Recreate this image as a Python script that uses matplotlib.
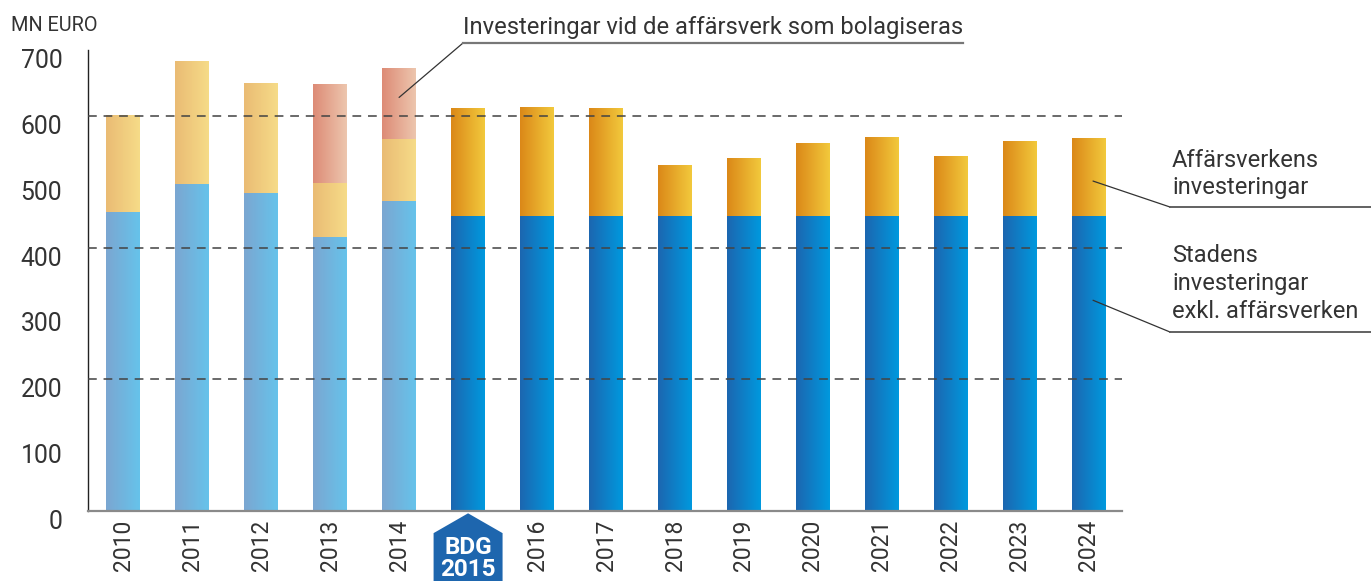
import matplotlib.pyplot as plt
import numpy as np
from matplotlib.colors import LinearSegmentedColormap
from matplotlib.patches import Polygon
from matplotlib.transforms import ScaledTranslation, blended_transform_factory

years = ['2010', '2011', '2012', '2013', '2014', '2015', '2016', '2017',
         '2018', '2019', '2020', '2021', '2022', '2023', '2024']
# stadens investeringar exkl. affärsverken
stad = [454, 497, 483, 416, 471, 448, 448, 448, 448, 448, 448, 448, 448, 448, 448]
# affärsverkens investeringar
affarsverk = [147, 186, 167, 82, 94, 164, 165, 164, 77, 88, 111, 120, 91, 114, 118]
# investeringar vid de affärsverk som bolagiseras
bolag = [0, 0, 0, 150, 108, 0, 0, 0, 0, 0, 0, 0, 0, 0, 0]
budget_year = '2015'
yticks = [0, 100, 200, 300, 400, 500, 600, 700]
grid_levels = [200, 400, 600]

plt.rcParams['font.family'] = ['Roboto', 'DejaVu Sans']
txt = '#333333'
fw = 'normal'

fig = plt.figure(figsize=(13.71, 5.81), dpi=100)
ax = fig.add_axes([88 / 1371, 70 / 581, 1034 / 1371, 461 / 581])

hist = {'stad': ('#7ba6d1', '#66c3eb'), 'av': ('#eabb74', '#f6dc88'), 'bo': ('#dd8b76', '#edc6ae')}
bud = {'stad': ('#1c66b0', '#0099de'), 'av': ('#db8818', '#f2c93c'), 'bo': ('#dd8b76', '#edc6ae')}

x = np.arange(len(years))
w = 0.49
grad = np.linspace(0, 1, 128).reshape(1, -1)


def grad_bars(vals, bottoms, key):
    bars = ax.bar(x, vals, bottom=bottoms, width=w, color='none', edgecolor='none')
    for i, rect in enumerate(bars):
        if vals[i] <= 0:
            continue
        pal = hist if int(years[i]) < int(budget_year) else bud
        cmap = LinearSegmentedColormap.from_list(key, pal[key])
        x0, y0 = rect.get_x(), rect.get_y()
        im = ax.imshow(grad, cmap=cmap, aspect='auto', interpolation='bilinear',
                       extent=(x0, x0 + rect.get_width(), y0, y0 + rect.get_height()), zorder=2)
        im.set_clip_path(rect)


b1 = np.array(stad)
b2 = b1 + np.array(affarsverk)
grad_bars(stad, 0, 'stad')
grad_bars(affarsverk, b1, 'av')
grad_bars(bolag, b2, 'bo')

for g in grid_levels:
    ax.axhline(g, color='#444444', lw=1.4, ls=(0, (4.5, 3.5)), alpha=0.8, zorder=3)

ax.set_xlim(-0.51, 14.48)
ax.set_ylim(0, 700)
ax.set_yticks(yticks)
ax.set_yticklabels([str(t) for t in yticks], fontsize=17.8, color=txt, fontweight=fw)
ax.tick_params(axis='y', length=0, pad=18.5)
for lab in ax.get_yticklabels():
    lab.set_transform(lab.get_transform() + ScaledTranslation(0, -8.5 / 100, fig.dpi_scale_trans))
ax.set_xticks(x)
ax.set_xticklabels(['' if y == budget_year else y for y in years], rotation=90,
                   fontsize=16.5, color=txt, fontweight=fw, va='top')
ax.tick_params(axis='x', length=0, pad=6.5)

for s in ['top', 'right']:
    ax.spines[s].set_visible(False)
ax.spines['left'].set_color('#222222')
ax.spines['left'].set_linewidth(1.0)
ax.spines['bottom'].set_color('#8a8a8a')
ax.spines['bottom'].set_linewidth(1.6)

# budget badge
bi = years.index(budget_year)
tr = blended_transform_factory(ax.transData, ax.transAxes)
badge = Polygon([(bi - 0.5, -0.25), (bi - 0.5, -0.048), (bi, -0.005),
                 (bi + 0.5, -0.048), (bi + 0.5, -0.25)], closed=True,
                transform=tr, facecolor='#1e66ae', edgecolor='none', clip_on=False, zorder=4)
ax.add_patch(badge)
ax.text(bi, -0.080, 'BDG', transform=tr, ha='center', va='center', color='white',
        fontsize=17.5, fontweight='bold', zorder=5)
ax.text(bi, -0.126, budget_year, transform=tr, ha='center', va='center', color='white',
        fontsize=17.5, fontweight='bold', zorder=5)

fig.text(11 / 1371, 1 - 31 / 581, 'MN EURO', fontsize=14.3, color=txt, fontweight=fw)


def fx(px):
    return px / 1371


def fy(py):
    return 1 - py / 581


# top annotation
fig.text(fx(463), fy(34), 'Investeringar vid de affärsverk som bolagiseras', fontsize=17.1,
         color=txt, fontweight=fw, va='baseline')
ax.annotate('', xy=(4.0, 628), xycoords='data', xytext=(fx(463), fy(43)),
            textcoords='figure fraction',
            arrowprops=dict(arrowstyle='-', color='#333333', lw=0.9, shrinkA=0, shrinkB=0))
fig.add_artist(plt.Line2D([fx(463), fx(963)], [fy(43), fy(43)], color='#777777', lw=1.6))

# right annotations
fig.text(fx(1172), fy(194), 'Affärsverkens\ninvesteringar', fontsize=17, color=txt,
         fontweight=fw, va='baseline', linespacing=1.2)
ax.annotate('', xy=(14.06, 501), xycoords='data', xytext=(fx(1170), fy(207)),
            textcoords='figure fraction',
            arrowprops=dict(arrowstyle='-', color='#333333', lw=0.9, shrinkA=0, shrinkB=0))
fig.add_artist(plt.Line2D([fx(1170), 1.0], [fy(207), fy(207)], color='#555555', lw=1.3))

fig.text(fx(1172), fy(318), 'Stadens\ninvesteringar\nexkl. affärsverken', fontsize=17,
         color=txt, fontweight=fw, va='baseline', linespacing=1.27)
ax.annotate('', xy=(14.06, 320), xycoords='data', xytext=(fx(1170), fy(332)),
            textcoords='figure fraction',
            arrowprops=dict(arrowstyle='-', color='#333333', lw=0.9, shrinkA=0, shrinkB=0))
fig.add_artist(plt.Line2D([fx(1170), 1.0], [fy(332), fy(332)], color='#555555', lw=1.3))

fig.savefig('out.png', dpi=100)
